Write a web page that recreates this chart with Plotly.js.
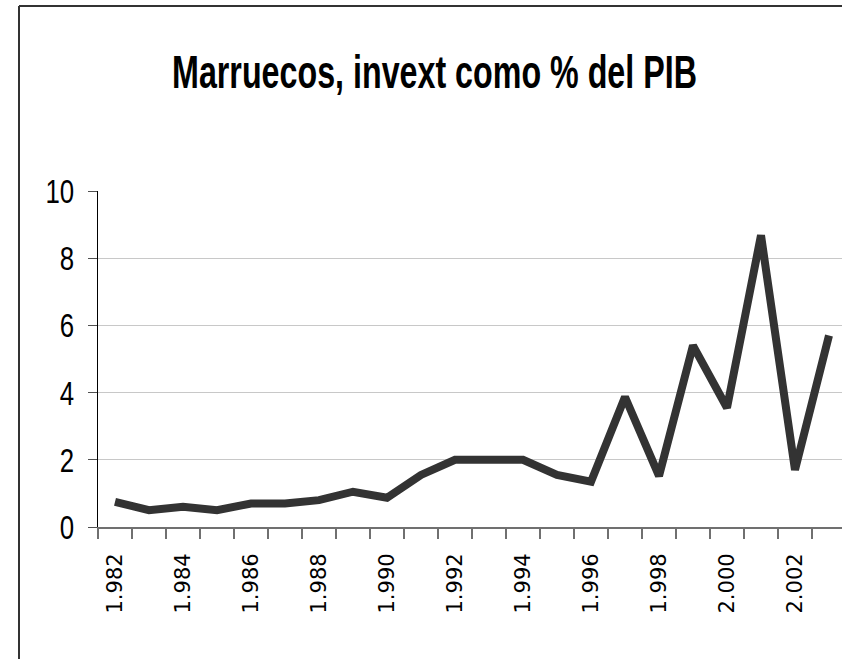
<!DOCTYPE html>
<html>
<head>
<meta charset="utf-8">
<script src="https://cdn.plot.ly/plotly-3.0.1.min.js"></script>
<style>
html, body { margin: 0; padding: 0; overflow: hidden; background: #fff; }
#chart { width: 850px; height: 659px; }
</style>
</head>
<body>
<div id="chart"></div>
<script>
const years = ['1.982','1.983','1.984','1.985','1.986','1.987','1.988','1.989','1.990','1.991','1.992',
               '1.993','1.994','1.995','1.996','1.997','1.998','1.999','2.000','2.001','2.002','2.003'];
const invext = [0.75, 0.5, 0.6, 0.5, 0.7, 0.7, 0.8, 1.05, 0.87, 1.55, 2.0,
                2.0, 2.0, 1.55, 1.35, 3.87, 1.52, 5.4, 3.55, 8.68, 1.7, 5.7];
const tickText = years.map((y, i) => (i % 2 === 0 ? y : ''));
const yTicks = [0, 2, 4, 6, 8, 10];

const sans = '"Liberation Sans", Arial, sans-serif';

const trace = {
  type: 'scatter',
  mode: 'lines',
  x: years,
  y: invext,
  line: { color: '#333333', width: 8 },
  hoverinfo: 'x+y'
};

// plot area: x 98..846, y 191..527
const L = 98, R = 846, T = 191, B = 527;
const px = v => (v - L) / (R - L);
const py = v => (B - v) / (B - T);

const layout = {
  width: 850,
  height: 659,
  margin: { l: L, r: 850 - R, t: T, b: 659 - B, pad: 0 },
  paper_bgcolor: '#ffffff',
  plot_bgcolor: '#ffffff',
  showlegend: false,
  title: {
    text: '<b>Marruecos, invext como % del PIB</b>',
    font: { family: sans, size: 47, color: '#000000' },
    xref: 'paper', x: px(434.5), xanchor: 'center',
    yref: 'container', y: 1 - 72 / 659, yanchor: 'middle'
  },
  xaxis: {
    type: 'category',
    tickmode: 'array',
    tickvals: years,
    ticktext: tickText,
    tickson: 'boundaries',
    ticks: 'outside',
    ticklen: 10,
    tickwidth: 1.5,
    tickcolor: '#707070',
    showline: true,
    linecolor: '#707070',
    linewidth: 2,
    showgrid: false,
    zeroline: false,
    tickangle: -90,
    ticklabelstandoff: 16,
    tickfont: { family: '"DejaVu Sans", sans-serif', size: 21, color: '#000000' },
    range: [-0.5, 21.5],
    fixedrange: true
  },
  yaxis: {
    range: [0, 10],
    tickmode: 'array',
    tickvals: yTicks,
    ticktext: yTicks.map(String),
    ticks: 'outside',
    ticklen: 9,
    tickwidth: 1,
    tickcolor: '#505050',
    showline: true,
    linecolor: '#000000',
    linewidth: 1,
    showgrid: true,
    gridcolor: '#c8c8c8',
    gridwidth: 1,
    zeroline: false,
    ticklabelstandoff: 7,
    tickfont: { family: sans, size: 34, color: '#000000' },
    fixedrange: true
  },
  shapes: [
    { type: 'line', xref: 'paper', yref: 'paper',
      x0: px(19), x1: px(19), y0: py(700), y1: py(6),
      line: { color: '#333333', width: 2 } },
    { type: 'line', xref: 'paper', yref: 'paper',
      x0: px(19), x1: px(900), y0: py(6), y1: py(6),
      line: { color: '#333333', width: 2 } }
  ]
};

// horizontally condense a text element around its own anchor point
function condense(el, s) {
  const x = parseFloat(el.getAttribute('x')) || 0;
  const y = parseFloat(el.getAttribute('y')) || 0;
  const t = el.getAttribute('transform') || '';
  el.setAttribute('transform', t + ' translate(' + x + ',' + y + ') scale(' + s + ',1) translate(' + (-x) + ',' + (-y) + ')');
}

Plotly.newPlot('chart', [trace], layout, { displayModeBar: false, staticPlot: true }).then(gd => {
  const title = gd.querySelector('.gtitle');
  if (title) {
    const w = title.getBBox().width;
    condense(title, 525 / w);
  }
  gd.querySelectorAll('.ytick text').forEach(el => condense(el, 0.76));
});
</script>
</body>
</html>
